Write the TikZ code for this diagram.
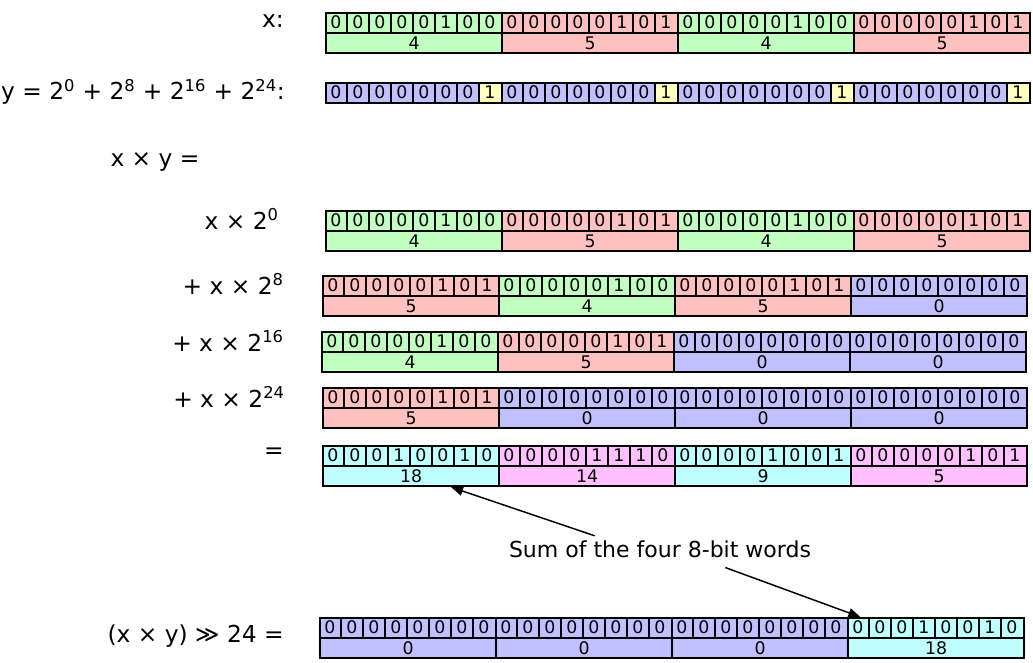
\documentclass[tikz,border=0pt]{standalone}
\usepackage{fontspec}
\setmainfont{DejaVu Sans}
\usetikzlibrary{arrows.meta,positioning}
\definecolor{wgreen}{HTML}{C0FFC0}
\definecolor{wred}{HTML}{FFC0C0}
\definecolor{wblue}{HTML}{C0C0FF}
\definecolor{wyellow}{HTML}{FFFFC0}
\definecolor{wcyan}{HTML}{C0FFFF}
\definecolor{wpink}{HTML}{FFC0FF}

% one 8-bit word: name, left, top, fill, value
\newcommand{\bword}[5]{%
  \node[bits, fill=#4] (#1-b) at (#2,#3) {};
  \foreach \i in {0,...,7}{
    \pgfmathtruncatemacro\d{mod(int((#5+0.5)/pow(2,7-\i)),2)}
    \node[bit] at ({#2+\i*22+11},{#3+10}) {\d};}
  \foreach \i in {1,...,7}
    \draw[sep] ({#2+\i*22},#3) -- ({#2+\i*22},{#3+20});
  \node[bits, fill=#4] (#1-v) at (#2,{#3+20}) {#5};}
% four words side by side
\newcommand{\wordrow}[4]{%
  \foreach \c/\v [count=\w from 0] in {#4}
    {\bword{#1\w}{#2+\w*176}{#3}{\c}{\v}}}

\begin{document}
\begin{tikzpicture}[x=0.75pt, y=-0.75pt,
  font=\fontsize{17.5}{20}\selectfont,
  bits/.style={draw, line width=1.6pt, minimum width=132pt, minimum height=15pt,
               inner sep=0pt, anchor=north west, font=\fontsize{13}{13}\selectfont},
  bit/.style={inner sep=0pt, font=\fontsize{13}{13}\selectfont},
  sep/.style={line width=1.3pt},
  lab/.style={anchor=east, inner sep=0pt},
  ar/.style={-{Triangle[length=9pt, width=7pt]}, line width=1.1pt}]
\useasboundingbox (0,0) rectangle (1033,662);

\node[lab] (lx) at (284,21) {x:};
\wordrow{x}{325}{12}{wgreen/4, wred/5, wgreen/4, wred/5}

\node[lab] (ly) at (285,92) {y = 2\textsuperscript{0} + 2\textsuperscript{8} + 2\textsuperscript{16} + 2\textsuperscript{24}:};
\foreach \w in {0,...,3}{
  \fill[wblue] ({325+\w*176},82) rectangle ++(154,20);
  \fill[wyellow] ({325+\w*176+154},82) rectangle ++(22,20);
  \node[bits] (y\w) at ({325+\w*176},82) {};
  \foreach \i in {1,...,7}
    \draw[sep] ({325+\w*176+\i*22},82) -- ++(0,20);
  \foreach \i in {0,...,7}{
    \pgfmathtruncatemacro\d{\i==7}
    \node[bit] at ({325+\w*176+\i*22+11},92) {\d};}
}

\node (lxy) at (155,162) {x × y =};

\node[lab] (l0) at (279,219) {x × 2\textsuperscript{0}};
\wordrow{s0}{325}{210}{wgreen/4, wred/5, wgreen/4, wred/5}
\node[lab] (l8) at (284,284) {+ x × 2\textsuperscript{8}};
\wordrow{s8}{322}{275}{wred/5, wgreen/4, wred/5, wblue/0}
\node[lab] (l16) at (284,341) {+ x × 2\textsuperscript{16}};
\wordrow{s16}{321}{331}{wgreen/4, wred/5, wblue/0, wblue/0}
\node[lab] (l24) at (285,397) {+ x × 2\textsuperscript{24}};
\wordrow{s24}{322}{387}{wred/5, wblue/0, wblue/0, wblue/0}
\node[lab] (leq) at (284,453) {=};
\wordrow{eq}{322}{445}{wcyan/18, wpink/14, wcyan/9, wpink/5}

\node[font=\fontsize{16.5}{19}\selectfont] (note) at (660,549) {Sum of the four 8-bit words};

\node[lab] (lsh) at (284,636) {(x × y) ≫ 24 =};
\wordrow{sh}{319}{617}{wblue/0, wblue/0, wblue/0, wcyan/18}

\draw[ar] ([xshift=-49pt]note.north) -- ([xshift=30pt]eq0-v.south);
\draw[ar] ([xshift=49pt, yshift=-4pt]note.south) -- ([xshift=10pt]sh3-b.north west);
\end{tikzpicture}
\end{document}
